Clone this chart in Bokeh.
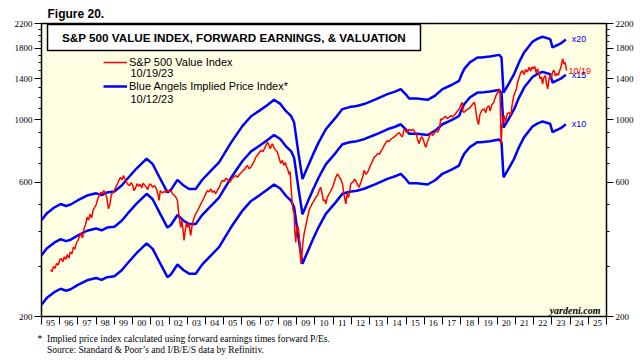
from bokeh.plotting import figure
from bokeh.models import (Range1d, FixedTicker, LogAxis, Label, Legend, LegendItem, Title,
                          BoxAnnotation)
from bokeh.embed import file_html
from bokeh.resources import INLINE
from bokeh.core.properties import value

# ---------------- data ----------------
# S&P 500 Value Index (red), decimal years
sp_dates = [
    1995.50, 1995.58, 1995.66, 1995.75, 1995.83, 1995.92,
    1996.00, 1996.08, 1996.17, 1996.25, 1996.33, 1996.42, 1996.50, 1996.58, 1996.67, 1996.75, 1996.83, 1996.92,
    1997.00, 1997.08, 1997.17, 1997.25, 1997.33, 1997.42, 1997.50, 1997.58, 1997.67, 1997.75, 1997.83, 1997.92,
    1998.00, 1998.08, 1998.17, 1998.25, 1998.33, 1998.42, 1998.50, 1998.58, 1998.67, 1998.75, 1998.83, 1998.92,
    1999.00, 1999.08, 1999.17, 1999.25, 1999.33, 1999.42, 1999.50, 1999.58, 1999.67, 1999.75, 1999.83, 1999.92,
    2000.00, 2000.08, 2000.17, 2000.25, 2000.33, 2000.42, 2000.50, 2000.58, 2000.67, 2000.75, 2000.83, 2000.92,
    2001.00, 2001.10, 2001.20, 2001.30, 2001.40, 2001.45, 2001.52, 2001.62, 2001.72, 2001.82, 2001.92,
    2002.00, 2002.10, 2002.18, 2002.28, 2002.38, 2002.46, 2002.52, 2002.58, 2002.64, 2002.70, 2002.76, 2002.82, 2002.88, 2002.95,
    2003.03, 2003.10, 2003.15, 2003.19, 2003.26, 2003.35, 2003.46, 2003.56, 2003.66, 2003.76, 2003.86, 2003.95,
    2004.01, 2004.10, 2004.20, 2004.29, 2004.38, 2004.47, 2004.56, 2004.65, 2004.75, 2004.85, 2004.93,
    2005.03, 2005.13, 2005.23, 2005.33, 2005.43, 2005.55, 2005.66, 2005.76, 2005.86, 2005.95,
    2006.05, 2006.15, 2006.21, 2006.30, 2006.40, 2006.50, 2006.60, 2006.68, 2006.76, 2006.86, 2006.95,
    2007.05, 2007.15, 2007.25, 2007.35, 2007.40, 2007.47, 2007.55, 2007.62, 2007.67, 2007.75, 2007.85, 2007.93,
    2008.03, 2008.12, 2008.22, 2008.30, 2008.38, 2008.45, 2008.50, 2008.58, 2008.64, 2008.68, 2008.74, 2008.80, 2008.86, 2008.90, 2008.95,
    2009.00, 2009.06, 2009.13, 2009.18, 2009.23, 2009.28, 2009.35, 2009.41, 2009.50, 2009.58, 2009.68, 2009.76, 2009.86, 2009.95,
    2010.05, 2010.15, 2010.25, 2010.32, 2010.40, 2010.47, 2010.55, 2010.60, 2010.68, 2010.78, 2010.88, 2010.97,
    2011.06, 2011.15, 2011.24, 2011.32, 2011.42, 2011.52, 2011.60, 2011.65, 2011.70, 2011.77, 2011.85, 2011.92, 2011.97,
    2012.08, 2012.18, 2012.28, 2012.36, 2012.43, 2012.52, 2012.62, 2012.70, 2012.80, 2012.88, 2012.96,
    2013.05, 2013.15, 2013.25, 2013.35, 2013.45, 2013.55, 2013.65, 2013.72, 2013.80, 2013.90, 2013.98,
    2014.05, 2014.15, 2014.25, 2014.35, 2014.45, 2014.53, 2014.63, 2014.72, 2014.80, 2014.90, 2014.98,
    2015.06, 2015.16, 2015.26, 2015.36, 2015.46, 2015.56, 2015.64, 2015.72, 2015.80, 2015.88, 2015.96,
    2016.04, 2016.09, 2016.16, 2016.25, 2016.36, 2016.45, 2016.55, 2016.65, 2016.75, 2016.83, 2016.91, 2016.98,
    2017.06, 2017.16, 2017.26, 2017.36, 2017.46, 2017.56, 2017.66, 2017.76, 2017.85, 2017.93,
    2018.02, 2018.08, 2018.13, 2018.19, 2018.28, 2018.38, 2018.48, 2018.58, 2018.68, 2018.74, 2018.80, 2018.86, 2018.93, 2018.98,
    2019.05, 2019.15, 2019.29, 2019.37, 2019.45, 2019.55, 2019.62, 2019.70, 2019.80, 2019.90, 2019.98,
    2020.05, 2020.12, 2020.16, 2020.19, 2020.22, 2020.26, 2020.32, 2020.38, 2020.46, 2020.55, 2020.65, 2020.75, 2020.82, 2020.90, 2020.98,
    2021.06, 2021.12, 2021.20, 2021.30, 2021.39, 2021.48, 2021.56, 2021.66, 2021.76, 2021.84, 2021.92, 2021.98,
    2022.06, 2022.14, 2022.22, 2022.30, 2022.36, 2022.43, 2022.49, 2022.56, 2022.64, 2022.70, 2022.77, 2022.84, 2022.92, 2022.98,
    2023.04, 2023.12, 2023.20, 2023.28, 2023.36, 2023.44, 2023.52, 2023.59, 2023.66, 2023.72, 2023.77, 2023.80,
]
sp_values = [
    293, 289, 301, 297, 309, 305,
    318, 321, 313, 326, 319, 332, 322, 339, 334, 353, 347, 366,
    372, 385, 394, 380, 410, 425, 451, 440, 462, 448, 478, 489,
    500, 522, 540, 553, 546, 561, 548, 530, 483, 500, 540, 553,
    560, 578, 592, 610, 625, 612, 634, 615, 600, 588, 584, 598,
    586, 560, 575, 593, 580, 590, 572, 596, 585, 576, 565, 590,
    590, 576, 584, 570, 540, 517, 560, 550, 556, 553, 562,
    555, 560, 546, 540, 530, 517, 470, 440, 415, 440, 410, 373, 400, 430,
    415, 427, 400, 388, 420, 445, 463, 475, 490, 505, 520, 535,
    546, 560, 555, 569, 552, 560, 546, 562, 575, 598, 609,
    605, 620, 612, 600, 615, 628, 634, 625, 640, 648,
    660, 668, 679, 688, 670, 680, 700, 715, 737, 750, 765,
    780, 770, 795, 820, 833, 815, 790, 810, 822, 800, 778, 770,
    735, 700, 717, 690, 705, 680, 670, 640, 655, 593, 520, 480, 463, 400, 367,
    410, 420, 394, 350, 308, 330, 370, 394, 420, 445, 476, 490, 505, 515,
    531, 540, 565, 576, 545, 515, 520, 503, 530, 545, 560, 576,
    600, 625, 643, 630, 615, 590, 540, 520, 503, 545, 530, 565, 593,
    600, 615, 600, 585, 576, 600, 625, 661, 640, 650, 665,
    690, 710, 737, 745, 760, 755, 780, 790, 811, 830, 845,
    835, 850, 860, 870, 880, 892, 900, 880, 870, 929, 915,
    900, 925, 916, 925, 910, 890, 850, 822, 860, 870, 845,
    810, 799, 830, 860, 904, 880, 895, 915, 905, 930, 1009, 1000,
    1015, 1030, 1010, 1020, 1036, 1025, 1040, 1060, 1080, 1095,
    1130, 1155, 1070, 1064, 1080, 1090, 1100, 1120, 1140, 1155, 1120, 1040, 985, 962,
    1040, 1080, 1095, 1060, 1110, 1120, 1075, 1130, 1150, 1200, 1240,
    1250, 1289, 1230, 1000, 822, 940, 1000, 1036, 980, 1050, 1060, 1040, 1125, 1210, 1250,
    1290, 1361, 1410, 1470, 1497, 1450, 1510, 1480, 1538, 1490, 1540, 1520,
    1550, 1470, 1518, 1460, 1400, 1420, 1340, 1410, 1440, 1350, 1289, 1390, 1440, 1410,
    1477, 1500, 1430, 1460, 1440, 1500, 1560, 1648, 1580, 1600, 1560, 1497,
]

# Forward earnings (per share) of the S&P 500 Value Index
fe_dates = [
    1995.00, 1995.30, 1995.70, 1996.05, 1996.35, 1996.60, 1997.00, 1997.50, 1998.00, 1998.30,
    1998.60, 1999.00, 1999.40, 1999.70, 2000.20, 2000.77, 2001.10, 2001.50, 2001.91, 2002.10,
    2002.46, 2002.80, 2003.10, 2003.46, 2003.80, 2004.30, 2004.74, 2005.40, 2006.03, 2006.50,
    2006.94, 2007.40, 2007.76, 2008.10, 2008.40, 2008.70, 2008.86, 2009.10, 2009.32, 2009.60,
    2009.87, 2010.20, 2010.60, 2011.15, 2011.51, 2011.90, 2012.30, 2012.70, 2013.30, 2013.98,
    2014.40, 2014.71, 2015.00, 2015.17, 2015.60, 2016.18, 2016.60, 2017.00, 2017.50, 2017.91,
    2018.05, 2018.19, 2018.50, 2018.92, 2019.11, 2019.60, 2020.11, 2020.24, 2020.35, 2020.60,
    2020.93, 2021.20, 2021.48, 2021.94, 2022.20, 2022.49, 2022.91, 2023.04, 2023.20, 2023.49,
    2023.77,
]
fe_values = [
    22.0, 23.3, 24.4, 25.1, 24.7, 25.0, 25.9, 26.9, 27.4, 27.0,
    27.6, 27.8, 29.2, 30.8, 33.5, 36.4, 34.8, 31.0, 27.6, 28.2,
    30.6, 29.2, 28.4, 28.4, 30.5, 33.0, 35.3, 41.5, 47.6, 51.5,
    53.8, 56.5, 58.9, 57.0, 53.8, 51.5, 48.9, 38.0, 30.8, 34.0,
    37.3, 41.5, 46.3, 51.0, 54.6, 55.5, 56.0, 56.9, 59.0, 61.7,
    63.0, 64.3, 61.5, 59.5, 59.5, 58.9, 61.0, 64.3, 66.5, 68.8,
    72.5, 75.7, 80.0, 83.3, 83.3, 84.0, 85.1, 83.3, 62.5, 66.5,
    72.7, 80.0, 86.8, 94.7, 97.0, 98.7, 96.8, 90.4, 91.5, 93.4,
    96.5,
]
pe_multiples = [10, 15, 20]

year_labels = ["95", "96", "97", "98", "99", "00", "01", "02", "03", "04", "05", "06",
               "07", "08", "09", "10", "11", "12", "13", "14", "15", "16", "17", "18",
               "19", "20", "21", "22", "23", "24", "25"]
y_ticks = [200, 600, 1000, 1400, 1800, 2200]
y_minor = [300, 400, 500, 700, 800, 900, 1100, 1200, 1300, 1500, 1600, 1700, 1900, 2000, 2100]

assert len(sp_dates) == len(sp_values)
assert len(fe_dates) == len(fe_values)

# ---------------- figure ----------------
SANS = "Liberation Sans"
SERIF = "Liberation Serif"
RED = "#FF0000"
BLUE = "#0000FF"

p = figure(width=638, height=362,
           x_range=Range1d(1995, 2026), y_range=Range1d(200, 2200),
           y_axis_type="log", output_backend="svg", toolbar_location=None,
           background_fill_color="#FFFFE3", border_fill_color="white",
           min_border_left=41, min_border_right=32, min_border_top=23, min_border_bottom=46)
p.xgrid.visible = False
p.ygrid.visible = False
p.outline_line_color = "black"
p.outline_line_width = 1.5

# x axis: labels centred in each year, ticks on year boundaries
first_year = 1995
mids = [first_year + i + 0.5 for i in range(len(year_labels))]
bounds = [first_year + i for i in range(len(year_labels) + 1)]
xa = p.xaxis[0]
xa.ticker = FixedTicker(ticks=mids, minor_ticks=bounds)
xa.major_label_overrides = {m: lab for m, lab in zip(mids, year_labels)}
xa.major_tick_out = 0
xa.major_tick_in = 0
xa.minor_tick_out = 8
xa.minor_tick_in = 0
xa.minor_tick_line_color = "black"
xa.axis_line_color = "black"
xa.major_label_standoff = -5
xa.major_label_text_font = SERIF
xa.major_label_text_font_size = "9px"
xa.major_label_text_color = "black"

ry = LogAxis()
p.add_layout(ry, "right")
for ax in [p.yaxis[0], ry]:
    ax.ticker = FixedTicker(ticks=y_ticks, minor_ticks=y_minor)
    ax.major_label_overrides = {t: str(t) for t in y_ticks}
    ax.major_tick_out = 7
    ax.major_tick_in = 0
    ax.minor_tick_out = 3
    ax.minor_tick_in = 0
    ax.major_tick_line_color = "black"
    ax.minor_tick_line_color = "black"
    ax.axis_line_color = "black"
    ax.major_label_standoff = 2
    ax.major_label_text_font = SERIF
    ax.major_label_text_font_size = "9px"
    ax.major_label_text_color = "black"

# ---------------- lines ----------------
blue_rs = []
for m in pe_multiples:
    r = p.line(fe_dates, [v * m for v in fe_values], line_color=BLUE, line_width=2.5)
    blue_rs.append(r)
red_r = p.line(sp_dates, sp_values, line_color=RED, line_width=1.5)

# end labels
p.text(x=[fe_dates[-1]] * len(pe_multiples), y=[fe_values[-1] * m for m in pe_multiples],
       text=["x%d" % m for m in pe_multiples], x_offset=6,
       text_baseline="middle", text_align="left", text_color=BLUE,
       text_font=value(SANS), text_font_size="9px")
p.text(x=[sp_dates[-1]], y=[sp_values[-1]], text=["10/19"], x_offset=2,
       text_baseline="middle", text_align="left", text_color=RED,
       text_font=value(SANS), text_font_size="9px")

# ---------------- legend ----------------
legend = Legend(items=[LegendItem(label="S&P 500 Value Index", renderers=[red_r]),
                       LegendItem(label="Blue Angels Implied Price Index*", renderers=[blue_rs[0]])],
                location=(62, 224), orientation="vertical",
                glyph_width=24, glyph_height=12, label_height=12, label_width=10,
                spacing=12, padding=0, margin=0, label_standoff=2,
                border_line_color=None, background_fill_alpha=0,
                label_text_font=SANS, label_text_font_size="11px", label_text_color="black")
p.add_layout(legend)

for txt, yy in [("10/19/23", 244), ("10/12/23", 218)]:
    p.add_layout(Label(x=89, y=yy, x_units="screen", y_units="screen", text=txt,
                       text_baseline="middle", text_align="left",
                       text_font=SANS, text_font_size="11px", text_color="black"))

# title box (frame-relative screen units)
p.add_layout(BoxAnnotation(left=6, right=379, top=292, bottom=266,
                           left_units="screen", right_units="screen",
                           top_units="screen", bottom_units="screen",
                           fill_color="white", fill_alpha=1.0,
                           line_color="black", line_width=1.5, line_alpha=1.0))
p.add_layout(Label(x=192.5, y=279, x_units="screen", y_units="screen",
                   text="S&P 500 VALUE INDEX, FORWARD EARNINGS, & VALUATION",
                   text_align="center", text_baseline="middle",
                   text_font=SANS, text_font_style="bold", text_font_size="11.7px",
                   text_color="black"))

# watermark
p.add_layout(Label(x=559, y=6, x_units="screen", y_units="screen", text="yardeni.com",
                   text_baseline="middle", text_align="right",
                   text_font=SERIF, text_font_style="bold italic", text_font_size="10px",
                   text_color="black"))

# figure caption above the frame
p.add_layout(Title(text="Figure 20.", align="left", offset=6, standoff=2,
                   vertical_align="top", padding=(0, 0, 2, 0),
                   text_font=SANS, text_font_style="bold", text_font_size="12px",
                   text_color="black"), "above")

# footnotes below the axis (two lines in one title)
NB = "\u00a0"
footnote = ("*" + NB * 2 + "Implied price index calculated using forward earnings times forward P/Es.\n"
            + NB * 4 + "Source: Standard & Poor\u2019s and I/B/E/S data by Refinitiv.")
p.add_layout(Title(text=footnote, align="left", offset=-8, standoff=6,
                   padding=(4, 0, 0, 0),
                   text_font=SERIF, text_font_style="normal", text_font_size="9.5px",
                   text_line_height=1.05, text_color="black"), "below")

open("out.html", "w").write(file_html(p, INLINE))
